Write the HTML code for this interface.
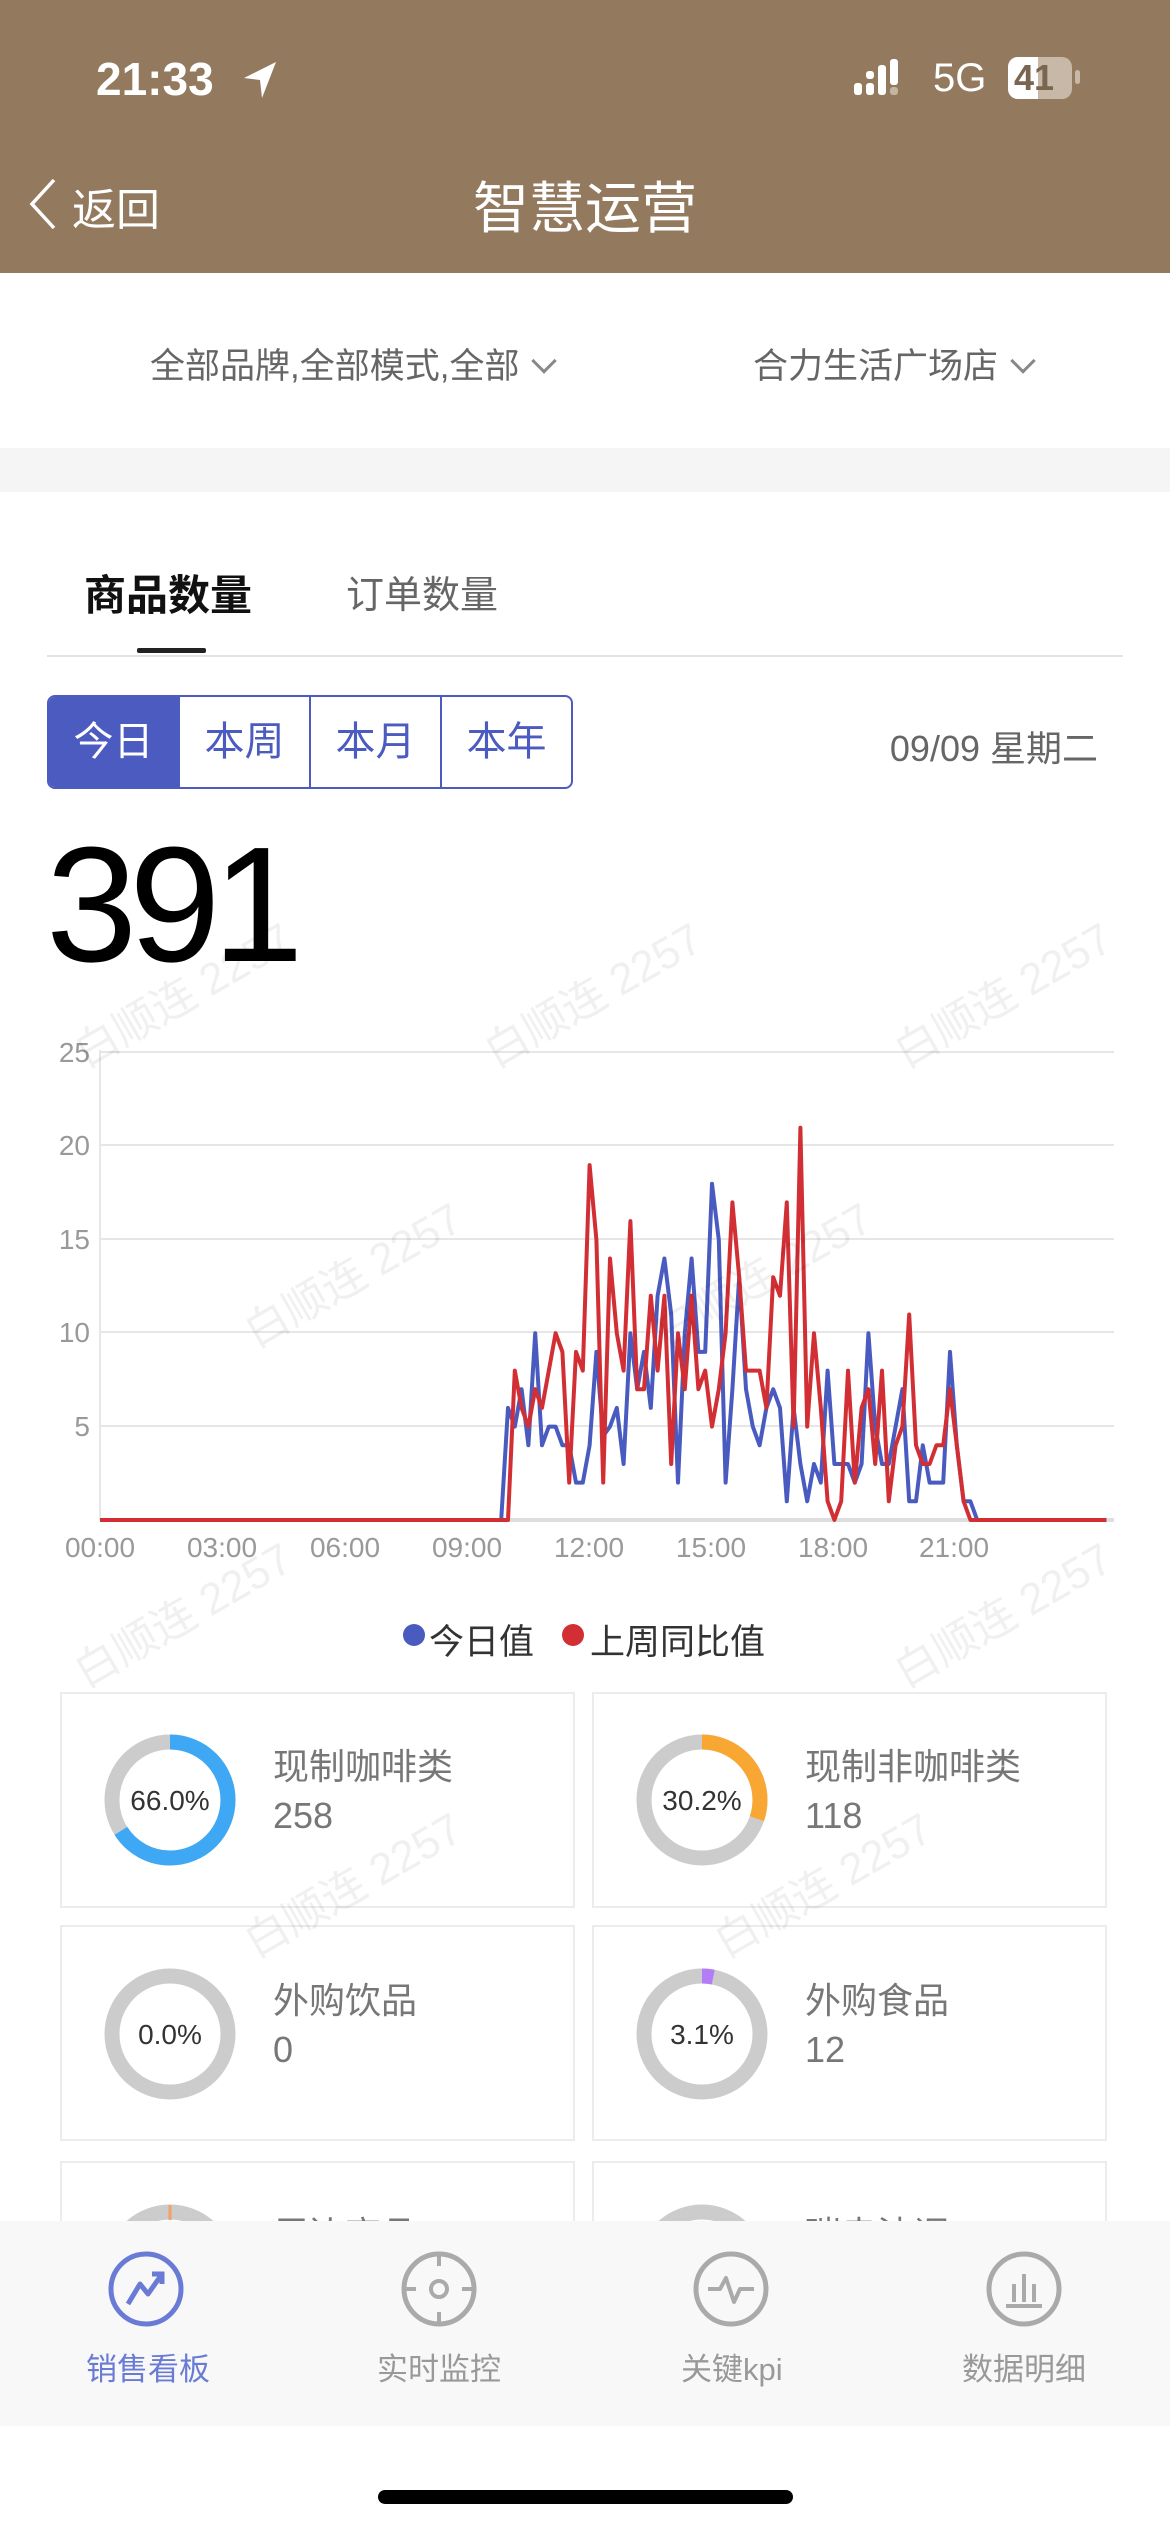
<!DOCTYPE html>
<html><head><meta charset="utf-8">
<style>
*{margin:0;padding:0;box-sizing:border-box}
body{width:1170px;height:2532px;position:relative;overflow:hidden;background:#fff;font-family:"Liberation Sans","Noto Sans CJK SC",sans-serif}
.a{position:absolute;white-space:nowrap}
.card{position:absolute;border:2px solid #ececec;background:#fff}
.wm{position:absolute;color:rgba(0,0,0,0.06);font-size:44px;transform:rotate(-30deg);white-space:nowrap}
</style></head><body>
<div class="a" style="left:0;top:0;width:1170px;height:273px;background:#937a5e"></div>
<div class="a" style="left:96px;top:52px;font-size:46px;color:#fff;font-weight:bold">21:33</div>
<svg class="a" style="left:240px;top:60px" width="40" height="40"><polygon points="36,2 4,18 20,20 22,38" fill="#fff"/></svg>
<svg class="a" style="left:852px;top:57px" width="60" height="42"><rect x="2" y="26" width="8" height="12" rx="3" fill="#fff"/><rect x="14" y="26" width="8" height="12" rx="3" fill="#fff"/><rect x="14" y="14" width="8" height="8" rx="3" fill="#fff"/><rect x="26" y="8" width="8" height="30" rx="3" fill="#fff"/><rect x="38" y="2" width="8" height="26" rx="3" fill="#fff"/><rect x="38" y="30" width="8" height="8" rx="3" fill="#c4b4a2"/></svg>
<div class="a" style="left:933px;top:56px;font-size:40px;color:#fff">5G</div>
<div class="a" style="left:1008px;top:57px;width:64px;height:42px;border-radius:10px;background:#c7b8a8"></div>
<div class="a" style="left:1008px;top:57px;width:30px;height:42px;border-radius:10px 0 0 10px;background:#fff"></div>
<div class="a" style="left:1014px;top:57px;font-size:36px;color:#7a6650;font-weight:bold">41</div>
<div class="a" style="left:1075px;top:70px;width:5px;height:14px;border-radius:3px;background:#c7b8a8"></div>
<svg class="a" style="left:26px;top:176px" width="36" height="56"><polyline points="28,4 6,28 28,52" fill="none" stroke="#fff" stroke-width="3.5"/></svg>
<div class="a" style="left:72px;top:174px;font-size:44px;color:#fff">返回</div>
<div class="a" style="left:0;width:1170px;text-align:center;top:164px;font-size:56px;color:#fff">智慧运营</div>

<div class="a" style="left:150px;top:338px;font-size:35px;color:#666">全部品牌,全部模式,全部 <span style="display:inline-block;width:18px;height:18px;border-right:3px solid #888;border-bottom:3px solid #888;transform:rotate(45deg);margin-left:6px;position:relative;top:-8px"></span></div>
<div class="a" style="left:753px;top:338px;font-size:35px;color:#666">合力生活广场店 <span style="display:inline-block;width:18px;height:18px;border-right:3px solid #888;border-bottom:3px solid #888;transform:rotate(45deg);margin-left:6px;position:relative;top:-8px"></span></div>
<div class="a" style="left:0;top:448px;width:1170px;height:44px;background:#f5f5f5"></div>

<div class="a" style="left:84px;top:562px;font-size:42px;color:#111;font-weight:bold">商品数量</div>
<div class="a" style="left:346px;top:564px;font-size:38px;color:#666">订单数量</div>
<div class="a" style="left:137px;top:648px;width:69px;height:5px;background:#222;border-radius:2px"></div>
<div class="a" style="left:47px;top:655px;width:1076px;height:2px;background:#e2e2e2"></div>

<div class="a" style="left:47px;top:695px;width:526px;height:94px;border:2px solid #4b5bc0;border-radius:8px;overflow:hidden;display:flex">
<div style="flex:1;background:#4b5bc0;color:#fff;font-size:40px;text-align:center;line-height:90px">今日</div>
<div style="flex:1;color:#4b5bc0;font-size:40px;text-align:center;line-height:90px;border-left:2px solid #4b5bc0">本周</div>
<div style="flex:1;color:#4b5bc0;font-size:40px;text-align:center;line-height:90px;border-left:2px solid #4b5bc0">本月</div>
<div style="flex:1;color:#4b5bc0;font-size:40px;text-align:center;line-height:90px;border-left:2px solid #4b5bc0">本年</div>
</div>
<div class="a" style="right:72px;top:720px;font-size:36px;color:#666">09/09 星期二</div>
<div class="a" style="left:46px;top:815px;font-size:164px;color:#000;line-height:180px;letter-spacing:-8px">391</div>

<svg class="a" style="left:0;top:1030px" width="1170" height="560">
<g stroke="#e6e6e6" stroke-width="2">
<line x1="100" y1="22" x2="1114" y2="22"/><line x1="100" y1="115" x2="1114" y2="115"/><line x1="100" y1="209" x2="1114" y2="209"/><line x1="100" y1="302" x2="1114" y2="302"/><line x1="100" y1="396" x2="1114" y2="396"/>
<line x1="100" y1="20" x2="100" y2="490"/>
</g>
<line x1="100" y1="490" x2="1114" y2="490" stroke="#ddd" stroke-width="4"/>
<g fill="#999" font-size="28" font-family="Liberation Sans,sans-serif" text-anchor="end">
<text x="90" y="32">25</text><text x="90" y="125">20</text><text x="90" y="219">15</text><text x="90" y="312">10</text><text x="90" y="406">5</text></g>
<g fill="#999" font-size="28" font-family="Liberation Sans,sans-serif" text-anchor="middle">
<text x="100" y="527">00:00</text><text x="222" y="527">03:00</text><text x="345" y="527">06:00</text><text x="467" y="527">09:00</text><text x="589" y="527">12:00</text><text x="711" y="527">15:00</text><text x="833" y="527">18:00</text><text x="954" y="527">21:00</text></g>
<polyline id="pb" fill="none" stroke="#4a5bc0" stroke-width="4" stroke-linejoin="round"/>
<polyline id="pr" fill="none" stroke="#d22f35" stroke-width="4" stroke-linejoin="round"/>
</svg>
<script>
(function(){
var b=[6,5,7,4,10,4,5,5,4,4,2,2,4,9,4.5,5,6,3,10,7,9,6,12,14,11,2,10,14,9,9,18,15,2,7,13,7,5,4,6,7,6,1,6,3,1,3,2,8,3,3,3,2,3,10,5,3,3,5,7,1,1,4,2,2,2,9,4,1,1,0];
var r=[0,8,6,5,7,6,8,10,9,2,9,8,19,15,2,14,10,8,16,7,7,12,8,12,3,10,7,12,7,8,5,7,10,17,13,8,8,8,6,13,12,17,5,21,5,10,6,1,0,1,8,2,6,7,3,8,1,4,5,11,4,3,3,4,4,7,4,1,0];
function pts(arr){var a=[];for(var i=0;i<=148;i++){var v=0;if(i>=60&&i-60<arr.length)v=arr[i-60];var x=100+i*40.8/6,y=490-v*18.68;a.push(x.toFixed(1)+","+y.toFixed(1));}return a.join(" ");}
document.getElementById("pb").setAttribute("points",pts(b));
document.getElementById("pr").setAttribute("points",pts(r));
})();
</script>

<div class="a" style="left:403px;top:1624px;width:22px;height:22px;border-radius:50%;background:#4a5bc0"></div>
<div class="a" style="left:429px;top:1614px;font-size:35px;color:#333">今日值</div>
<div class="a" style="left:562px;top:1624px;width:22px;height:22px;border-radius:50%;background:#d22f35"></div>
<div class="a" style="left:590px;top:1614px;font-size:35px;color:#333">上周同比值</div>

<div class="card" style="left:60px;top:1692px;width:515px;height:216px"></div>
<div class="card" style="left:592px;top:1692px;width:515px;height:216px"></div>
<div class="card" style="left:60px;top:1925px;width:515px;height:216px"></div>
<div class="card" style="left:592px;top:1925px;width:515px;height:216px"></div>
<div class="card" style="left:60px;top:2161px;width:515px;height:216px"></div>
<div class="card" style="left:592px;top:2161px;width:515px;height:216px"></div>

<svg class="a" style="left:0;top:1690px" width="1170" height="700">
<g fill="none" stroke-width="15">
<circle cx="170" cy="110" r="58" stroke="#ccc"/>
<circle cx="170" cy="110" r="58" stroke="#3ea8f5" stroke-dasharray="240.5 364.4" transform="rotate(-90 170 110)"/>
<circle cx="702" cy="110" r="58" stroke="#ccc"/>
<circle cx="702" cy="110" r="58" stroke="#f8a832" stroke-dasharray="110 364.4" transform="rotate(-90 702 110)"/>
<circle cx="170" cy="344" r="58" stroke="#ccc"/>
<circle cx="702" cy="344" r="58" stroke="#ccc"/>
<circle cx="702" cy="344" r="58" stroke="#b47cf7" stroke-dasharray="11.3 364.4" transform="rotate(-90 702 344)"/>
<circle cx="170" cy="580" r="58" stroke="#ccc"/>
<circle cx="702" cy="580" r="58" stroke="#ccc"/>
</g>
<line x1="170" y1="515" x2="170" y2="530" stroke="#f4a06a" stroke-width="3"/>
<g font-size="28" fill="#333" font-family="Liberation Sans,sans-serif" text-anchor="middle">
<text x="170" y="120">66.0%</text><text x="702" y="120">30.2%</text><text x="170" y="354">0.0%</text><text x="702" y="354">3.1%</text></g>
</svg>
<div class="a" style="left:273px;top:1738px;font-size:36px;color:#777">现制咖啡类</div>
<div class="a" style="left:273px;top:1795px;font-size:36px;color:#777">258</div>
<div class="a" style="left:805px;top:1738px;font-size:36px;color:#777">现制非咖啡类</div>
<div class="a" style="left:805px;top:1795px;font-size:36px;color:#777">118</div>
<div class="a" style="left:273px;top:1972px;font-size:36px;color:#777">外购饮品</div>
<div class="a" style="left:273px;top:2029px;font-size:36px;color:#777">0</div>
<div class="a" style="left:805px;top:1972px;font-size:36px;color:#777">外购食品</div>
<div class="a" style="left:805px;top:2029px;font-size:36px;color:#777">12</div>
<div class="a" style="left:273px;top:2206px;font-size:36px;color:#777">周边商品</div>
<div class="a" style="left:805px;top:2206px;font-size:36px;color:#777">瑞幸波调</div>

<div class="wm" style="left:230px;top:1240px">白顺连 2257</div>
<div class="wm" style="left:640px;top:1240px">白顺连 2257</div>
<div class="wm" style="left:60px;top:960px">白顺连 2257</div>
<div class="wm" style="left:470px;top:960px">白顺连 2257</div>
<div class="wm" style="left:880px;top:960px">白顺连 2257</div>
<div class="wm" style="left:60px;top:1580px">白顺连 2257</div>
<div class="wm" style="left:880px;top:1580px">白顺连 2257</div>
<div class="wm" style="left:230px;top:1850px">白顺连 2257</div>
<div class="wm" style="left:700px;top:1850px">白顺连 2257</div>

<div class="a" style="left:0;top:2221px;width:1170px;height:205px;background:#f8f8f8"></div>
<svg class="a" style="left:0;top:2240px" width="1170" height="100">
<g fill="none" stroke-width="5">
<circle cx="146" cy="49" r="35" stroke="#6a7bd6"/>
<polyline points="128,64 140,44 148,54 162,34" stroke="#6a7bd6" stroke-linejoin="round"/>
<polyline points="152,34 162,34 162,44" stroke="#6a7bd6"/>
<circle cx="439" cy="49" r="35" stroke="#aaa"/>
<circle cx="439" cy="49" r="8" stroke="#aaa" stroke-width="4"/>
<g stroke="#aaa" stroke-width="4"><line x1="439" y1="14" x2="439" y2="26"/><line x1="439" y1="72" x2="439" y2="84"/><line x1="404" y1="49" x2="416" y2="49"/><line x1="462" y1="49" x2="474" y2="49"/></g>
<circle cx="731" cy="49" r="35" stroke="#aaa"/>
<polyline points="708,49 720,49 726,38 734,62 740,49 754,49" stroke="#aaa" stroke-width="4" stroke-linejoin="round"/>
<circle cx="1024" cy="49" r="35" stroke="#aaa"/>
<g stroke="#aaa" stroke-width="4"><line x1="1006" y1="66" x2="1042" y2="66"/><line x1="1014" y1="62" x2="1014" y2="44"/><line x1="1024" y1="62" x2="1024" y2="34"/><line x1="1034" y1="62" x2="1034" y2="44"/></g>
</g></svg>
<div class="a" style="left:86px;top:2344px;font-size:31px;color:#6a7bd6">销售看板</div>
<div class="a" style="left:377px;top:2344px;font-size:31px;color:#999">实时监控</div>
<div class="a" style="left:681px;top:2344px;font-size:31px;color:#999">关键kpi</div>
<div class="a" style="left:962px;top:2344px;font-size:31px;color:#999">数据明细</div>
<div class="a" style="left:378px;top:2490px;width:415px;height:14px;border-radius:7px;background:#000"></div>
</body></html>
